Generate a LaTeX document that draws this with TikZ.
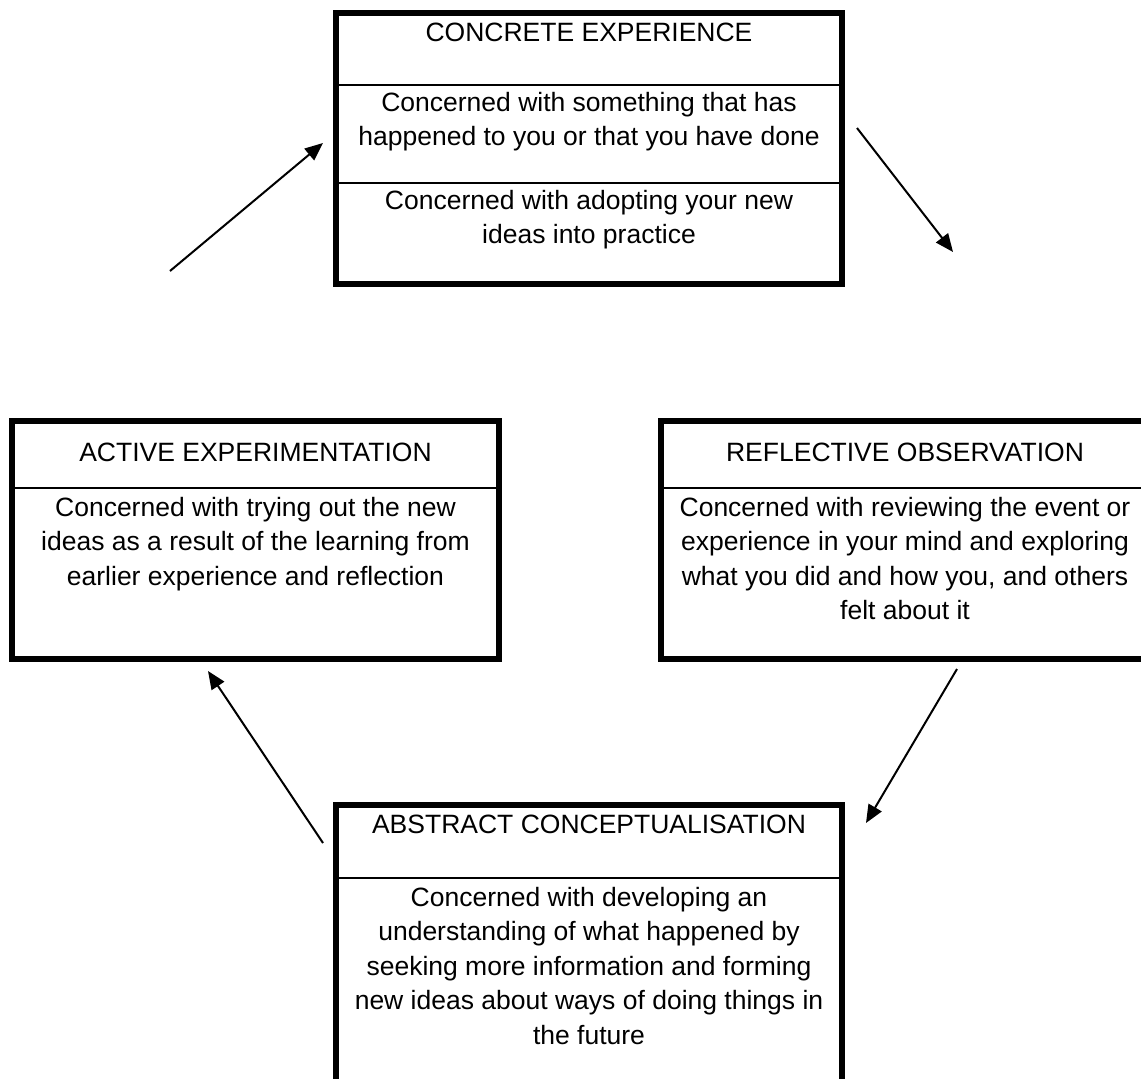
\documentclass[tikz,border=0pt]{standalone}
\usepackage{fontspec}
\setmainfont{Liberation Sans}
\usetikzlibrary{positioning, calc, arrows.meta}

\begin{document}
\begin{tikzpicture}[
  x=1pt, y=-1pt,
  font=\fontsize{26.5pt}{34.5pt}\selectfont,
  box/.style={
    draw,
    line width=6pt,
    outer sep=0pt,
    inner sep=0pt,
    anchor=north west,
  },
  heading/.style={inner sep=0pt},
  body/.style={inner sep=0pt, align=center, anchor=north},
  rule/.style={line width=2pt},
  flow/.style={line width=2pt, -{Triangle[length=18pt, width=15pt]}},
]
\useasboundingbox (0,0) rectangle (1141,1079);
\clip (0,0) rectangle (1141,1079);

% --- Concrete Experience ---
\node[box, minimum width=506pt, minimum height=271pt] (Concrete) at (336,13) {};
\draw[rule] ($(Concrete.north west)+(0,72)$) -- ($(Concrete.north east)+(0,72)$);
\draw[rule] ($(Concrete.north west)+(0,170)$) -- ($(Concrete.north east)+(0,170)$);
\node[heading] (ConcreteHead) at ($(Concrete.north)+(0,19)$) {CONCRETE EXPERIENCE};
\node[body] (ConcreteText) at ($(Concrete.north)+(0,79)$)
  {Concerned with something that has\\happened to you or that you have done};
\node[body] (ConcreteMore) at ($(Concrete.north)+(0,177)$)
  {Concerned with adopting your new\\ideas into practice};

% --- Reflective Observation ---
\node[box, minimum width=488pt, minimum height=238pt] (Reflective) at (661,421) {};
\draw[rule] ($(Reflective.north west)+(0,67)$) -- ($(Reflective.north east)+(0,67)$);
\node[heading] (ReflectiveHead) at ($(Reflective.north)+(0,31)$) {REFLECTIVE OBSERVATION};
\node[body] (ReflectiveText) at ($(Reflective.north)+(0,76)$)
  {Concerned with reviewing the event or\\experience in your mind and exploring\\what you did and how you, and others\\felt about it};

% --- Abstract Conceptualisation ---
\node[box, minimum width=506pt, minimum height=300pt] (Abstract) at (336,805) {};
\draw[rule] ($(Abstract.north west)+(0,73)$) -- ($(Abstract.north east)+(0,73)$);
\node[heading] (AbstractHead) at ($(Abstract.north)+(0,19)$) {ABSTRACT CONCEPTUALISATION};
\node[body] (AbstractText) at ($(Abstract.north)+(0,82)$)
  {Concerned with developing an\\understanding of what happened by\\seeking more information and forming\\new ideas about ways of doing things in\\the future};

% --- Active Experimentation ---
\node[box, minimum width=487pt, minimum height=238pt] (Active) at (12,421) {};
\draw[rule] ($(Active.north west)+(0,67)$) -- ($(Active.north east)+(0,67)$);
\node[heading] (ActiveHead) at ($(Active.north)+(0,31)$) {ACTIVE EXPERIMENTATION};
\node[body] (ActiveText) at ($(Active.north)+(0,76)$)
  {Concerned with trying out the new\\ideas as a result of the learning from\\earlier experience and reflection};

% Cycle arrows (free-standing between the boxes)
\coordinate (ActiveOut) at (170,271);
\coordinate (ConcreteIn) at (323,143);
\coordinate (ConcreteOut) at (857,128);
\coordinate (ReflectiveIn) at (953,252);
\coordinate (ReflectiveOut) at (957,669);
\coordinate (AbstractIn) at (866,823);
\coordinate (AbstractOut) at (323,843);
\coordinate (ActiveIn) at (208,671);

\draw[flow] (ActiveOut) -- (ConcreteIn);
\draw[flow] (ConcreteOut) -- (ReflectiveIn);
\draw[flow] (ReflectiveOut) -- (AbstractIn);
\draw[flow] (AbstractOut) -- (ActiveIn);

\end{tikzpicture}
\end{document}
